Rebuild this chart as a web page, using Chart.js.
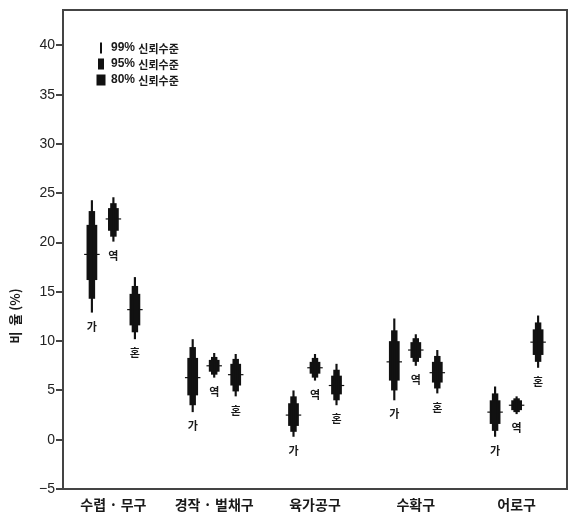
<!DOCTYPE html>
<html lang="ko">
<head>
<meta charset="utf-8">
<title>비율 신뢰구간</title>
<script src="https://cdn.jsdelivr.net/npm/chart.js@4/dist/chart.umd.min.js"></script>
<style>
  html, body { margin: 0; padding: 0; background: #fff; }
  #wrap { width: 572px; height: 519px; position: relative; }
</style>
</head>
<body>
<div id="wrap"><canvas id="c" width="572" height="519"></canvas></div>
<script>
// Categories (tool groups) and the three sub-series shown in each group
const categories = ['수렵 · 무구', '경작 · 벌채구', '육가공구', '수확구', '어로구'];
const seriesNames = ['가', '역', '혼'];
const levelLabels = ['99% 신뢰수준', '95% 신뢰수준', '80% 신뢰수준'];

// Y axis ticks
const yTickValues = [-5, 0, 5, 10, 15, 20, 25, 30, 35, 40];
const yTickLabels = ['\u22125', '0', '5', '10', '15', '20', '25', '30', '35', '40'];

// 가: mean and [low, high] confidence intervals (%)
const gaMean = [18.8, 6.3, 2.5, 7.9, 2.8];
const ga99 = [[12.9, 24.3], [2.8, 10.2], [0.3, 5.0], [4.0, 12.3], [0.3, 5.4]];
const ga95 = [[14.3, 23.2], [3.5, 9.4], [0.8, 4.4], [5.0, 11.1], [0.9, 4.7]];
const ga80 = [[16.2, 21.8], [4.5, 8.3], [1.4, 3.7], [6.0, 10.0], [1.6, 4.0]];

// 역
const yeokMean = [22.4, 7.5, 7.3, 9.1, 3.5];
const yeok99 = [[20.1, 24.6], [6.3, 8.8], [6.0, 8.7], [7.5, 10.7], [2.6, 4.4]];
const yeok95 = [[20.6, 24.0], [6.6, 8.4], [6.3, 8.3], [7.9, 10.3], [2.8, 4.2]];
const yeok80 = [[21.2, 23.5], [6.9, 8.1], [6.7, 7.9], [8.3, 9.9], [3.0, 4.0]];

// 혼
const honMean = [13.2, 6.6, 5.5, 6.8, 9.9];
const hon99 = [[10.2, 16.5], [4.4, 8.7], [3.5, 7.7], [4.7, 9.1], [7.3, 12.6]];
const hon95 = [[10.9, 15.6], [4.9, 8.2], [4.0, 7.1], [5.2, 8.5], [7.9, 11.9]];
const hon80 = [[11.6, 14.8], [5.5, 7.7], [4.6, 6.5], [5.8, 7.9], [8.6, 11.2]];

const seriesData = [
  { mean: gaMean, levels: [ga99, ga95, ga80] },
  { mean: yeokMean, levels: [yeok99, yeok95, yeok80] },
  { mean: honMean, levels: [hon99, hon95, hon80] }
];

const INK = '#111';
const AXIS = '#444';
const TEXT = '#1a1a1a';
const FONT = "'Liberation Sans', 'Noto Sans CJK KR', sans-serif";
const KFONT = "'Noto Sans CJK KR', sans-serif";
const levelWidths = [0.1, 0.3, 0.5];   // bar widths relative to each sub-slot
const meanWidth = 0.72;

// One stack per sub-series so the nested interval bars share an x position
const datasets = [];
seriesData.forEach((s, si) => {
  s.levels.forEach((lv, li) => {
    datasets.push({
      label: seriesNames[si] + ' ' + levelLabels[li],
      data: lv,
      stack: seriesNames[si],
      backgroundColor: INK,
      borderWidth: 0,
      barPercentage: levelWidths[li],
      categoryPercentage: 0.64,
      seriesIndex: si,
      levelIndex: li
    });
  });
  datasets.push({
    label: seriesNames[si] + ' 평균',
    data: s.mean.map(m => [m - 0.06, m + 0.06]),
    stack: seriesNames[si],
    backgroundColor: INK,
    borderWidth: 0,
    barPercentage: meanWidth,
    categoryPercentage: 0.64,
    minBarLength: 1,
    seriesIndex: si,
    levelIndex: -1
  });
});

// Frame, series labels under each mark, legend box and rotated y title
const decorations = {
  id: 'decorations',
  afterDatasetsDraw(chart) {
    const ctx = chart.ctx;
    const area = chart.chartArea;
    const y = chart.scales.y;

    // top and right frame lines
    ctx.save();
    ctx.strokeStyle = AXIS;
    ctx.lineWidth = 2;
    ctx.beginPath();
    ctx.moveTo(area.left, area.top);
    ctx.lineTo(area.right, area.top);
    ctx.lineTo(area.right, area.bottom);
    ctx.stroke();
    ctx.restore();

    // 가 / 역 / 혼 labels below the 99% interval of each mark
    ctx.save();
    ctx.fillStyle = TEXT;
    ctx.font = 'bold 11px ' + KFONT;
    ctx.textAlign = 'center';
    ctx.textBaseline = 'middle';
    chart.data.datasets.forEach((ds, di) => {
      if (ds.levelIndex !== 0) return;
      const meta = chart.getDatasetMeta(di);
      meta.data.forEach((el, i) => {
        const low = ds.data[i][0];
        ctx.fillText(seriesNames[ds.seriesIndex], el.x, y.getPixelForValue(low) + 14);
      });
    });
    ctx.restore();

    // legend
    ctx.save();
    const iconW = [2, 6, 9];
    const lx = area.left + 38;
    const ly = area.top + 38;
    levelLabels.forEach((txt, i) => {
      const cy = ly + i * 16;
      ctx.fillStyle = INK;
      ctx.fillRect(lx - iconW[i] / 2, cy - 5.5, iconW[i], 11);
      const parts = txt.split(' ');
      ctx.textBaseline = 'middle';
      ctx.textAlign = 'left';
      ctx.fillStyle = TEXT;
      ctx.font = 'bold 12px ' + FONT;
      ctx.fillText(parts[0], lx + 10, cy);
      const w = ctx.measureText(parts[0] + ' ').width;
      ctx.font = 'bold 11px ' + KFONT;
      ctx.fillText(parts[1], lx + 10 + w, cy + 1);
    });
    ctx.restore();

    // y axis title
    ctx.save();
    ctx.translate(15, 316);
    ctx.rotate(-Math.PI / 2);
    ctx.fillStyle = TEXT;
    ctx.font = 'bold 13px ' + KFONT;
    ctx.textAlign = 'center';
    ctx.textBaseline = 'middle';
    ctx.fillText('비  율 (%)', 0, 0);
    ctx.restore();
  }
};

new Chart(document.getElementById('c'), {
  type: 'bar',
  data: { labels: categories, datasets },
  options: {
    responsive: false,
    animation: false,
    devicePixelRatio: 1,
    layout: { padding: { top: 10, right: 5, left: 0, bottom: 0 } },
    plugins: {
      legend: { display: false },
      tooltip: { enabled: false }
    },
    scales: {
      x: {
        stacked: true,
        grid: { display: false, drawTicks: false },
        border: { display: true, color: AXIS, width: 2 },
        ticks: { color: TEXT, font: { family: KFONT, size: 14, weight: 'bold' }, padding: 7, maxRotation: 0, autoSkip: false },
        afterFit(scale) { scale.height = 30; }
      },
      y: {
        stacked: false,
        min: -5,
        max: 43.6,
        grid: { display: true, drawOnChartArea: false, drawTicks: true, tickLength: 7, color: AXIS, lineWidth: 2 },
        border: { display: true, color: AXIS, width: 2 },
        ticks: {
          color: '#222',
          font: { family: FONT, size: 14 },
          padding: 1,
          callback: (v) => {
            const k = yTickValues.indexOf(v);
            return k >= 0 ? yTickLabels[k] : '';
          }
        },
        afterBuildTicks(scale) { scale.ticks = yTickValues.map(v => ({ value: v })); },
        afterFit(scale) { scale.width = 63; }
      }
    }
  },
  plugins: [decorations]
});
</script>
</body>
</html>
